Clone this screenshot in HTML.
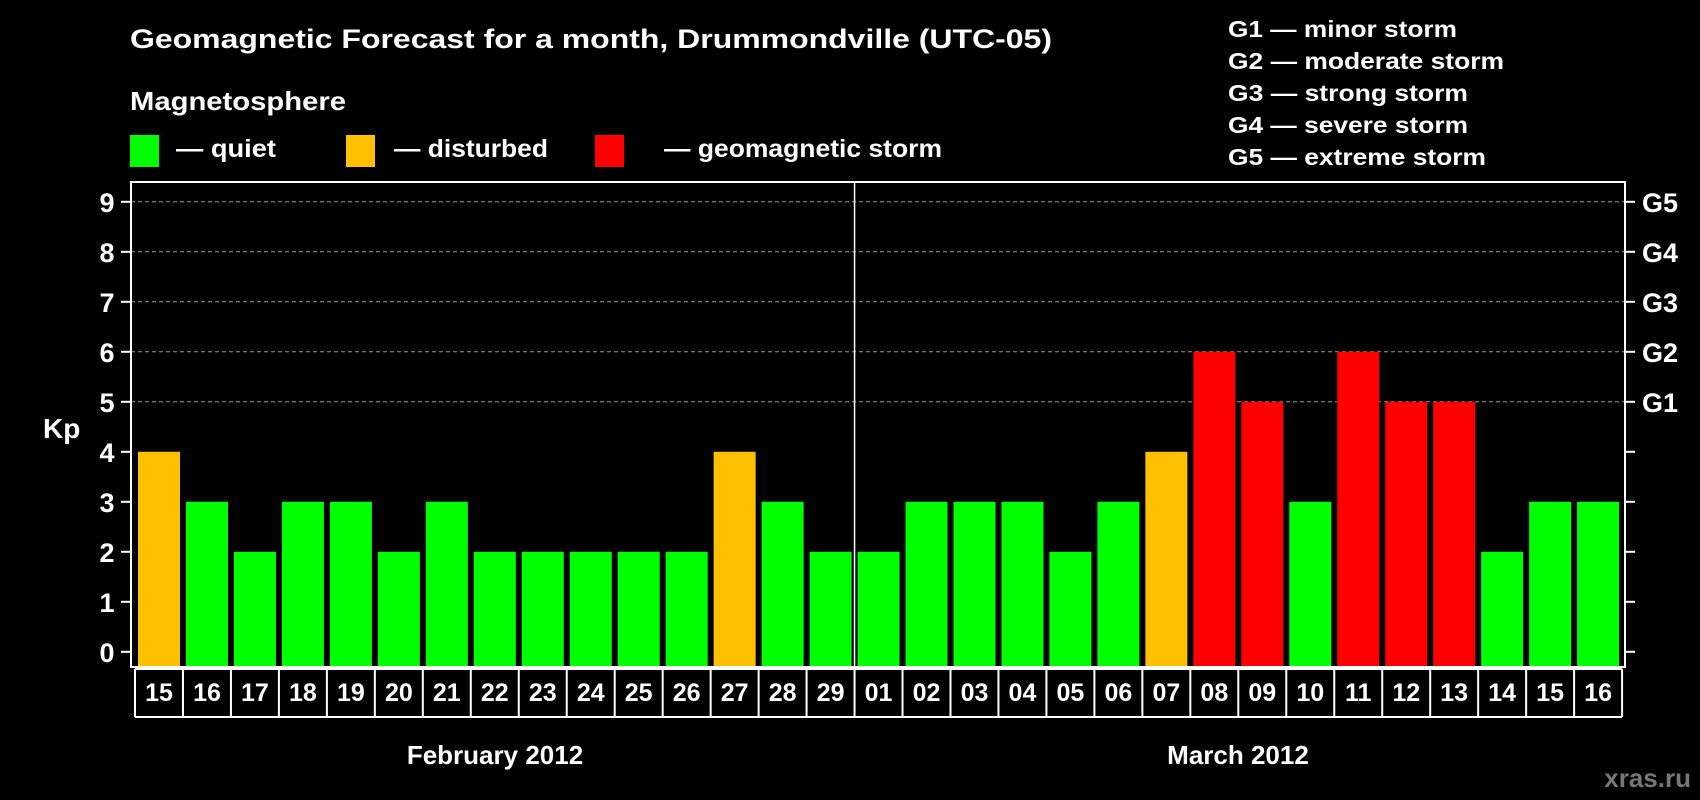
<!DOCTYPE html>
<html><head><meta charset="utf-8"><style>
html,body{margin:0;padding:0;background:#000;}
svg{display:block;font-family:"Liberation Sans",sans-serif;font-weight:bold;}
</style></head><body>
<svg id="chart" width="1700" height="800" viewBox="0 0 1700 800">
<rect width="1700" height="800" fill="#000"/>
<text x="130" y="48" fill="#fff" font-size="27" textLength="922" lengthAdjust="spacingAndGlyphs">Geomagnetic Forecast for a month, Drummondville (UTC-05)</text>
<text x="130" y="110" fill="#fff" font-size="26" textLength="216" lengthAdjust="spacingAndGlyphs">Magnetosphere</text>
<g>
<rect x="130" y="135" width="29" height="32" fill="#00ff00"/>
<text x="176" y="157" fill="#fff" font-size="25" textLength="100" lengthAdjust="spacingAndGlyphs">— quiet</text></g>
<g>
<rect x="346" y="135" width="29" height="32" fill="#ffc000"/>
<text x="394" y="157" fill="#fff" font-size="25" textLength="154" lengthAdjust="spacingAndGlyphs">— disturbed</text></g>
<g>
<rect x="595" y="135" width="29" height="32" fill="#ff0000"/>
<text x="664" y="157" fill="#fff" font-size="25" textLength="278" lengthAdjust="spacingAndGlyphs">— geomagnetic storm</text></g>
<g fill="#fff" font-size="23">
<text x="1228" y="37" textLength="229" lengthAdjust="spacingAndGlyphs">G1 — minor storm</text>
<text x="1228" y="69" textLength="276" lengthAdjust="spacingAndGlyphs">G2 — moderate storm</text>
<text x="1228" y="101" textLength="240" lengthAdjust="spacingAndGlyphs">G3 — strong storm</text>
<text x="1228" y="133" textLength="240" lengthAdjust="spacingAndGlyphs">G4 — severe storm</text>
<text x="1228" y="165" textLength="258" lengthAdjust="spacingAndGlyphs">G5 — extreme storm</text>
</g>
<text x="43" y="438" fill="#fff" font-size="28">Kp</text>
<g id="grid"></g>
<g id="bars"></g>
<g id="axes"></g>
<text x="495" y="764" fill="#fff" font-size="26" text-anchor="middle">February 2012</text>
<text x="1238" y="764" fill="#fff" font-size="26" text-anchor="middle">March 2012</text>
<text x="1691" y="787" fill="#777" font-size="26" text-anchor="end">xras.ru</text>
</svg>
<script>
const days = ["15","16","17","18","19","20","21","22","23","24","25","26","27","28","29","01","02","03","04","05","06","07","08","09","10","11","12","13","14","15","16"];
const kpValues = [4,3,2,3,3,2,3,2,2,2,2,2,4,3,2,2,3,3,3,2,3,4,6,5,3,6,5,5,2,3,3];
const yTicks = [0,1,2,3,4,5,6,7,8,9];
const gLabels = ["G1","G2","G3","G4","G5"];
const gLevels = [5,6,7,8,9];
const monthSplitIndex = 15;

const NS = "http://www.w3.org/2000/svg";
const L = 131, R = 1625, T = 182, B = 667;
const y0 = 651.8, unit = 50;
const pitch = 47.97, barW = 42, x0 = 138;
function yScale(v){ return y0 - v*unit; }
function xScale(i){ return x0 + i*pitch; }
function colorFor(v){ return v>=5 ? "#ff0000" : (v>=4 ? "#ffc000" : "#00ff00"); }
function mk(tag, attrs, parent){
  const e = document.createElementNS(NS, tag);
  for (const k in attrs) e.setAttribute(k, attrs[k]);
  parent.appendChild(e); return e;
}
const grid = document.getElementById("grid");
const bars = document.getElementById("bars");
const axes = document.getElementById("axes");

gLevels.forEach((lv, i) => {
  const ln = mk("line", {x1:L, x2:R, y1:yScale(lv), y2:yScale(lv), stroke:"#999", "stroke-width":1, "stroke-dasharray":"4,3"}, grid);
  
  
  const t = mk("text", {x:1642, y:yScale(lv)+10, fill:"#fff", "font-size":27}, axes);
  t.textContent = gLabels[i];
  
  
});

kpValues.forEach((v, i) => {
  const r = mk("rect", {x:xScale(i), y:yScale(v), width:barW, height:B - yScale(v), fill:colorFor(v)}, bars);
  
  
});

const frame = mk("rect", {x:L, y:T, width:R-L, height:B-T, fill:"none", stroke:"#fff", "stroke-width":2}, axes);



const sx = xScale(monthSplitIndex) - 3;
const split = mk("line", {x1:sx, x2:sx, y1:T, y2:B, stroke:"#fff", "stroke-width":1.5}, axes);



yTicks.forEach(v => {
  const y = yScale(v);
  mk("line", {x1:121, x2:L, y1:y, y2:y, stroke:"#fff", "stroke-width":2}, axes);
  mk("line", {x1:R, x2:1635, y1:y, y2:y, stroke:"#fff", "stroke-width":2}, axes);
  const t = mk("text", {x:107, y:y+10, fill:"#fff", "font-size":27, "text-anchor":"middle"}, axes);
  t.textContent = v;
  
  
});

const boxL = x0 - 3, boxT = 669, boxB = 717;
const boxR = boxL + days.length*pitch;
mk("line", {x1:boxL, x2:boxR, y1:boxT, y2:boxT, stroke:"#fff", "stroke-width":2}, axes);
mk("line", {x1:boxL, x2:boxR, y1:boxB, y2:boxB, stroke:"#fff", "stroke-width":2}, axes);
for (let i = 0; i <= days.length; i++) {
  const x = boxL + i*pitch;
  mk("line", {x1:x, x2:x, y1:boxT, y2:boxB, stroke:"#fff", "stroke-width":2}, axes);
}
days.forEach((d, i) => {
  const t = mk("text", {x:xScale(i)+barW/2, y:701, fill:"#fff", "font-size":25, "text-anchor":"middle"}, axes);
  t.textContent = d;
  
  
});
</script>
</body></html>
